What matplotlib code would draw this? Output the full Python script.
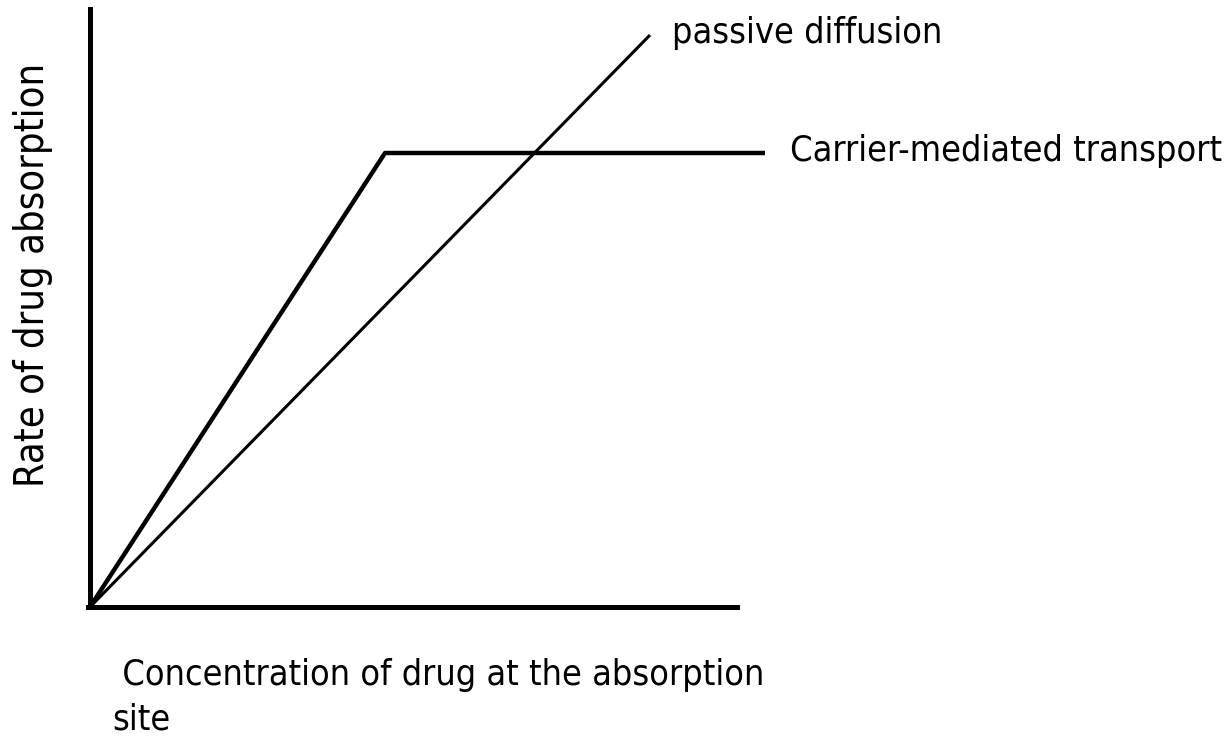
import matplotlib
matplotlib.use("Agg")
import matplotlib.pyplot as plt

# concentration / rate in arbitrary units (origin at the corner of the axes)
carrier_x = [0, 295, 675]
carrier_y = [0, 454, 454]
passive_x = [0, 560]
passive_y = [0, 572]

passive_label = "passive diffusion"
carrier_label = "Carrier-mediated transport"
xlabel = " Concentration of drug at the absorption\nsite"
ylabel = "Rate of drug absorption"

plt.rcParams["font.family"] = ["DejaVu Sans"]
plt.rcParams["font.stretch"] = "condensed"

W, H = 1232, 740
fig = plt.figure(figsize=(W / 100, H / 100), dpi=100)
ax = fig.add_axes([90 / W, (H - 607) / H, (W - 90) / W, 607 / H])
ax.set_xlim(0, W - 90)
ax.set_ylim(0, 607)
ax.patch.set_visible(False)

ax.plot(carrier_x, carrier_y, color="black", linewidth=3.2, solid_capstyle="butt")
ax.plot(passive_x, passive_y, color="black", linewidth=2.2, solid_capstyle="butt")

for s in ["top", "right"]:
    ax.spines[s].set_visible(False)
ax.spines["left"].set_linewidth(3.6)
ax.spines["bottom"].set_linewidth(3.6)
ax.spines["left"].set_bounds(0, 598)
ax.spines["bottom"].set_bounds(-2, 647)
ax.set_xticks([])
ax.set_yticks([])

fs = 25.8
ax.text(passive_x[-1] + 22, passive_y[-1] + 2, passive_label, fontsize=fs,
        ha="left", va="center")
ax.text(carrier_x[-1] + 25, carrier_y[-1] + 2, carrier_label, fontsize=fs,
        ha="left", va="center")

fig.text(112 / W, 1 - 658 / H, xlabel, fontsize=fs, ha="left", va="top",
         linespacing=1.4)
fig.text(33 / W, 1 - 275 / H, ylabel, fontsize=28.5, rotation=90,
         ha="center", va="center")

fig.savefig("out.png", dpi=100)
